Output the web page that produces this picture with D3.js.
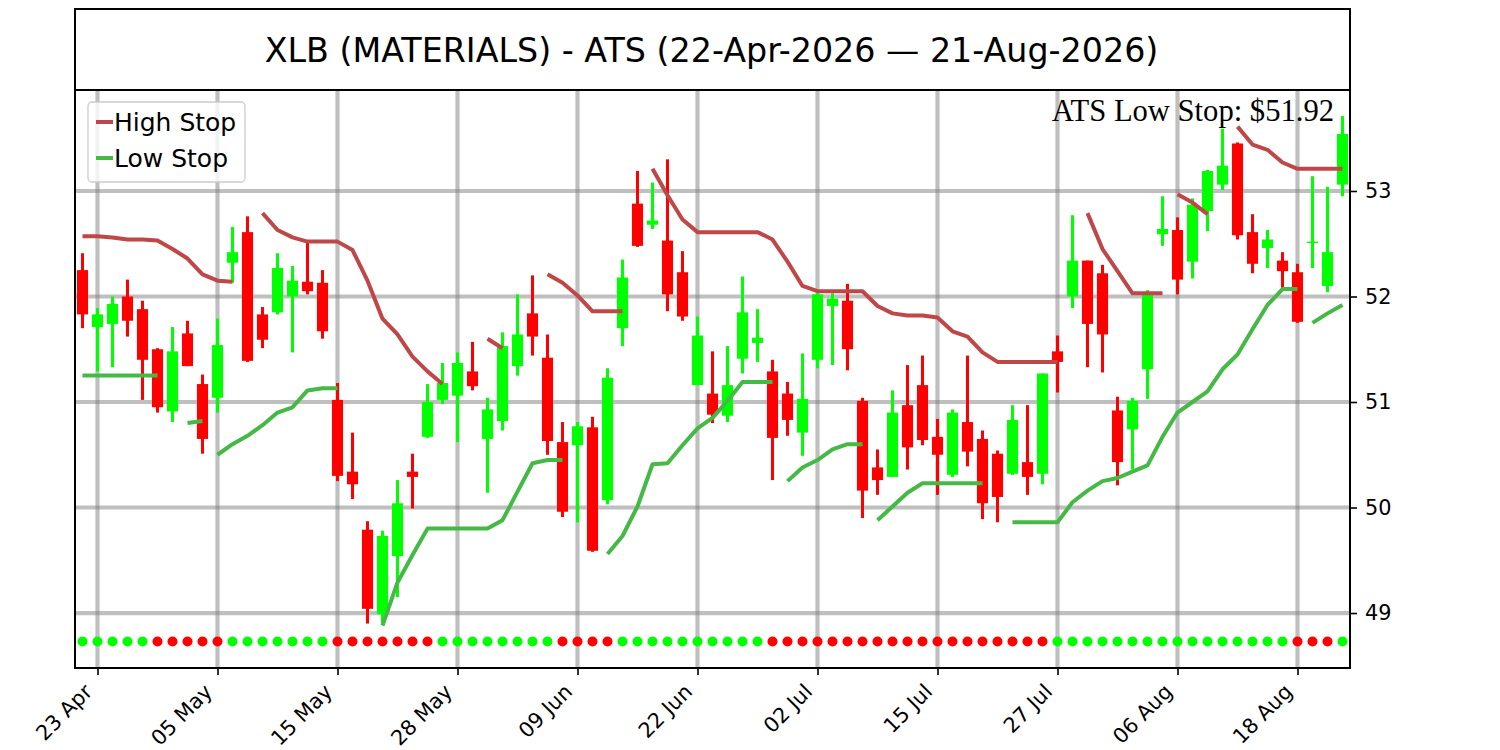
<!DOCTYPE html>
<html>
<head>
<meta charset="utf-8">
<script src="https://cdn.jsdelivr.net/npm/d3@7"></script>
<style>
  html, body { margin: 0; padding: 0; background: #ffffff; }
  svg { display: block; }
</style>
</head>
<body>
<svg id="chart" width="1500" height="750"></svg>
<script>
// ---------------- DATA ----------------
const title = "XLB (MATERIALS) - ATS (22-Apr-2026 \u2014 21-Aug-2026)";
const dates = [
  "2026-04-22","2026-04-23","2026-04-24","2026-04-27","2026-04-28","2026-04-29","2026-04-30",
  "2026-05-01","2026-05-04","2026-05-05","2026-05-06","2026-05-07","2026-05-08","2026-05-11",
  "2026-05-12","2026-05-13","2026-05-14","2026-05-15","2026-05-18","2026-05-19","2026-05-20",
  "2026-05-21","2026-05-22","2026-05-26","2026-05-27","2026-05-28","2026-05-29","2026-06-01",
  "2026-06-02","2026-06-03","2026-06-04","2026-06-05","2026-06-08","2026-06-09","2026-06-10",
  "2026-06-11","2026-06-12","2026-06-15","2026-06-16","2026-06-17","2026-06-18","2026-06-22",
  "2026-06-23","2026-06-24","2026-06-25","2026-06-26","2026-06-29","2026-06-30","2026-07-01",
  "2026-07-02","2026-07-06","2026-07-07","2026-07-08","2026-07-09","2026-07-10","2026-07-13",
  "2026-07-14","2026-07-15","2026-07-16","2026-07-17","2026-07-20","2026-07-21","2026-07-22",
  "2026-07-23","2026-07-24","2026-07-27","2026-07-28","2026-07-29","2026-07-30","2026-07-31",
  "2026-08-03","2026-08-04","2026-08-05","2026-08-06","2026-08-07","2026-08-10","2026-08-11",
  "2026-08-12","2026-08-13","2026-08-14","2026-08-17","2026-08-18","2026-08-19","2026-08-20",
  "2026-08-21"
];
const opens = [
  52.25,51.71,51.74,52.00,51.88,51.50,50.91,51.65,51.17,51.04,
  52.32,52.61,51.83,51.85,52.00,52.14,52.13,51.02,50.34,49.79,
  48.99,49.54,50.34,50.67,51.02,51.06,51.29,50.65,50.82,51.34,
  51.84,51.42,50.62,50.59,50.76,50.07,51.70,52.88,52.68,52.53,
  52.23,51.16,51.08,50.87,51.41,51.56,51.29,51.08,50.71,51.40,
  51.91,51.96,51.01,50.38,50.29,50.97,51.16,50.67,50.31,50.81,
  50.65,50.51,50.32,50.43,50.32,51.48,52.00,52.34,52.22,50.92,
  50.74,51.31,52.59,52.63,52.33,52.81,53.06,53.45,52.61,52.46,
  52.34,52.23,52.51,52.10,53.06
];
const highs = [
  52.41,51.89,52.00,52.16,51.96,51.51,51.71,51.77,51.26,51.79,
  52.66,52.76,51.90,52.41,52.29,52.52,52.25,51.18,50.71,49.87,
  49.78,50.26,50.51,51.17,51.37,51.47,51.57,51.04,51.66,52.02,
  52.20,51.64,50.81,50.81,50.86,51.32,52.35,53.19,53.08,53.30,
  52.43,51.81,51.48,51.53,52.19,51.88,51.40,51.19,51.46,52.03,
  52.03,52.12,51.04,50.55,51.11,51.35,51.44,50.84,50.93,51.44,
  50.73,50.54,50.97,50.97,51.27,51.63,52.77,52.34,52.30,51.05,
  51.04,52.06,52.95,52.75,52.93,53.20,53.59,53.46,52.78,52.63,
  52.42,52.31,53.14,53.04,53.71
];
const lows = [
  51.70,51.29,51.33,51.62,51.02,50.90,50.81,51.34,50.51,50.90,
  52.13,51.38,51.51,51.83,51.47,52.02,51.60,50.25,50.08,48.90,
  48.90,49.15,49.99,50.66,50.98,50.62,51.11,50.14,50.73,51.25,
  51.44,50.50,49.91,49.86,49.58,50.03,51.53,52.47,52.64,51.86,
  51.77,51.16,50.80,50.81,51.27,51.38,50.26,50.68,50.49,51.32,
  51.35,51.30,49.90,50.12,50.29,50.36,50.59,50.12,50.29,50.39,
  49.89,49.86,50.31,50.12,50.22,51.09,51.89,51.33,51.28,50.21,
  50.36,51.03,52.48,52.02,52.17,52.62,53.01,52.54,52.22,52.27,
  52.06,51.75,52.27,52.04,52.95
];
const closes = [
  51.83,51.83,51.93,51.77,51.40,50.95,51.48,51.34,50.65,51.54,
  52.42,51.39,51.59,52.27,52.15,52.05,51.67,50.30,50.22,49.04,
  49.73,50.04,50.29,51.00,51.18,51.37,51.15,50.93,51.53,51.64,
  51.62,50.63,49.96,50.77,49.59,51.23,52.18,52.48,52.72,52.02,
  51.81,51.63,50.88,51.16,51.85,51.61,50.66,50.83,51.03,52.02,
  51.98,51.50,50.16,50.26,50.90,50.57,50.64,50.50,50.90,50.53,
  50.04,50.10,50.83,50.29,51.27,51.38,52.34,51.74,51.64,50.43,
  51.01,52.03,52.64,52.16,52.87,53.19,53.24,52.58,52.31,52.54,
  52.24,51.76,52.52,52.42,53.54
];
const highStop = [
  52.57,52.57,52.56,52.54,52.54,52.53,52.45,52.36,52.21,52.15,
  52.14,null, 52.79,52.63,52.56,52.52,52.52,52.52,52.44,52.15,
  51.79,51.64,51.43,51.29,51.17,null, null, 51.60,51.51,null,
  null, 52.21,52.13,52.01,51.86,51.86,51.86,null, 53.21,52.96,
  52.73,52.61,52.61,52.61,52.61,52.61,52.54,52.33,52.10,52.05,
  52.05,52.05,52.05,51.91,51.84,51.82,51.82,51.80,51.67,51.62,
  51.47,51.38,51.38,51.38,51.38,51.38,null, 52.79,52.45,52.24,
  52.03,52.03,52.03,52.97,52.89,52.78,null, 53.61,53.44,53.39,
  53.27,53.21,53.21,53.21,53.21
];
const highSegStarts = [0, 12, 27, 31, 38, 67, 73, 77];
const lowStop = [
  51.25,51.25,51.25,51.25,51.25,51.25,null, 50.80,50.82,50.50,
  50.60,50.68,50.78,50.90,50.95,51.11,51.13,51.13,null, null,
  48.88,49.29,49.55,49.80,49.80,49.80,49.80,49.80,49.88,50.15,
  50.42,50.45,50.45,null, null, 49.56,49.73,50.01,50.41,50.42,
  50.59,50.75,50.85,51.01,51.19,51.19,51.19,50.25,50.38,50.45,
  50.55,50.60,50.60,49.88,50.01,50.14,50.23,50.23,50.23,50.23,
  50.23,null, 49.86,49.86,49.86,49.86,50.05,50.16,50.25,50.28,
  50.34,50.40,50.67,50.90,51.00,51.10,51.31,51.45,51.69,51.92,
  52.07,52.07,51.75,51.84,51.92
];
const lowSegStarts = [0, 7, 9, 20, 35, 47, 53, 62, 82];
// 1 = green marker, 0 = red marker
const dotState = [
  1,1,1,1,1,0,0,0,0,0,
  1,1,1,1,1,1,1,0,0,0,
  0,0,0,0,1,1,1,1,1,1,
  1,1,0,0,0,0,1,1,1,1,
  1,1,1,1,1,1,0,0,0,0,
  0,0,0,0,0,0,0,0,0,0,
  0,0,0,0,0,1,1,1,1,1,
  1,1,1,1,1,1,1,1,1,1,
  1,0,0,0,1
];
const dotLevel = 48.73;
const tickIdx = [1, 9, 17, 25, 33, 41, 49, 57, 65, 73, 81];
const tickLabels = ["23 Apr","05 May","15 May","28 May","09 Jun","22 Jun","02 Jul","15 Jul","27 Jul","06 Aug","18 Aug"];
const yTicks = [49, 50, 51, 52, 53];
const legendLabels = ["High Stop", "Low Stop"];
const annotation = "ATS Low Stop: $" + lowStop[lowStop.length - 1].toFixed(2);

// ---------------- LAYOUT ----------------
const L = 75, R = 1350, T = 90, B = 668;
const upColor = "#00ff00", downColor = "#ff0000";
const highColor = "#bf4747", lowColor = "#45b945";
const tickFont = "20.8px";

const svg = d3.select("#chart");
svg.append("rect").attr("width", 1500).attr("height", 750).attr("fill", "#fff");

const x = d3.scaleLinear().domain([-0.5, 84.5]).range([L, R]);
const y = d3.scaleLinear().domain([48.479, 53.957]).range([B, T]);

// title box
svg.append("rect").attr("x", L).attr("y", 9).attr("width", R - L).attr("height", T - 9)
  .attr("fill", "none").attr("stroke", "#000").attr("stroke-width", 2);
svg.append("text").attr("x", (L + R) / 2 - 1).attr("y", 62)
  .attr("text-anchor", "middle")
  .style("font-family", "'DejaVu Sans', sans-serif").style("font-size", "33.3px")
  .attr("fill", "#000").text(title);

const plot = svg.append("g");
plot.append("defs").append("clipPath").attr("id", "clip")
  .append("rect").attr("x", L).attr("y", T).attr("width", R - L).attr("height", B - T);

// grid
const grid = plot.append("g").attr("clip-path", "url(#clip)");
grid.selectAll("line.vg").data(tickIdx).enter().append("line")
  .attr("x1", d => x(d)).attr("x2", d => x(d)).attr("y1", T).attr("y2", B)
  .attr("stroke", "#808080").attr("stroke-opacity", 0.5).attr("stroke-width", 4.2);
grid.selectAll("line.hg").data(yTicks).enter().append("line")
  .attr("x1", L).attr("x2", R).attr("y1", d => y(d)).attr("y2", d => y(d))
  .attr("stroke", "#808080").attr("stroke-opacity", 0.5).attr("stroke-width", 4.2);

// candles
const idx = d3.range(opens.length);
const cg = plot.append("g").attr("clip-path", "url(#clip)");
const bodyW = x(0.37) - x(0);
cg.selectAll("rect.wick").data(idx).enter().append("rect")
  .attr("x", i => x(i) - 1.5).attr("width", 3)
  .attr("y", i => y(highs[i])).attr("height", i => y(lows[i]) - y(highs[i]))
  .attr("fill", i => closes[i] >= opens[i] ? upColor : downColor);
cg.selectAll("rect.body").data(idx).enter().append("rect")
  .attr("x", i => x(i) - bodyW).attr("width", bodyW * 2)
  .attr("y", i => y(Math.max(opens[i], closes[i])))
  .attr("height", i => Math.max(1.5, Math.abs(y(opens[i]) - y(closes[i]))))
  .attr("fill", i => closes[i] >= opens[i] ? upColor : downColor);

// stop lines
function segments(vals, starts) {
  return starts.map((s, k) => {
    const end = k + 1 < starts.length ? starts[k + 1] : vals.length;
    const pts = [];
    for (let i = s; i < end; i++) { if (vals[i] == null) break; pts.push([i, vals[i]]); }
    return pts;
  });
}
const line = d3.line().x(d => x(d[0])).y(d => y(d[1]));
const lg = plot.append("g").attr("clip-path", "url(#clip)");
lg.selectAll("path.hs").data(segments(highStop, highSegStarts)).enter().append("path")
  .attr("d", line).attr("fill", "none").attr("stroke", highColor)
  .attr("stroke-width", 4).attr("stroke-linejoin", "round");
lg.selectAll("path.ls").data(segments(lowStop, lowSegStarts)).enter().append("path")
  .attr("d", line).attr("fill", "none").attr("stroke", lowColor)
  .attr("stroke-width", 4).attr("stroke-linejoin", "round");

// state markers
plot.append("g").selectAll("circle").data(idx).enter().append("circle")
  .attr("cx", i => x(i)).attr("cy", y(dotLevel)).attr("r", 5)
  .attr("fill", i => dotState[i] ? upColor : downColor);

// axes frame
plot.append("rect").attr("x", L).attr("y", T).attr("width", R - L).attr("height", B - T)
  .attr("fill", "none").attr("stroke", "#000").attr("stroke-width", 2);

// right y axis
const yAxis = svg.append("g").attr("transform", `translate(${R},0)`)
  .call(d3.axisRight(y).tickValues(yTicks).tickSize(7).tickPadding(8).tickFormat(d3.format("d")));
yAxis.attr("font-size", null).attr("font-family", null);
yAxis.select(".domain").remove();
yAxis.selectAll(".tick line").attr("stroke", "#000").attr("stroke-width", 1.6);
yAxis.selectAll(".tick text")
  .style("font-family", "'DejaVu Sans', sans-serif")
  .style("font-size", tickFont).attr("fill", "#000");

// bottom x axis
const xAxis = svg.append("g").attr("transform", `translate(0,${B})`)
  .call(d3.axisBottom(x).tickValues(tickIdx).tickSize(7).tickFormat((d, i) => tickLabels[i]));
xAxis.attr("font-size", null).attr("font-family", null);
xAxis.select(".domain").remove();
xAxis.selectAll(".tick line").attr("stroke", "#000").attr("stroke-width", 1.6);
xAxis.selectAll(".tick text")
  .style("font-family", "'DejaVu Sans', sans-serif").style("font-size", tickFont).attr("fill", "#000")
  .attr("text-anchor", "end").attr("dy", null).attr("y", null)
  .attr("transform", "translate(-4.5,25) rotate(-45)");

// legend
const leg = svg.append("g");
leg.append("rect").attr("x", 88).attr("y", 102).attr("width", 157).attr("height", 80).attr("rx", 4)
  .attr("fill", "#fff").attr("fill-opacity", 0.8).attr("stroke", "#cccccc").attr("stroke-width", 1.3);
[highColor, lowColor].forEach((c, k) => {
  const yy = 122 + k * 36;
  leg.append("line").attr("x1", 96).attr("x2", 113).attr("y1", yy).attr("y2", yy)
    .attr("stroke", c).attr("stroke-width", 4);
  leg.append("text").attr("x", 114).attr("y", yy + 9)
    .style("font-family", "'DejaVu Sans', sans-serif").style("font-size", "25px")
    .attr("fill", "#000").text(legendLabels[k]);
});

// annotation
svg.append("text").attr("x", 1334).attr("y", 120.5).attr("text-anchor", "end")
  .style("font-family", "'Liberation Serif', 'Times New Roman', serif").style("font-size", "30.6px")
  .attr("fill", "#000").text(annotation);
</script>
</body>
</html>
